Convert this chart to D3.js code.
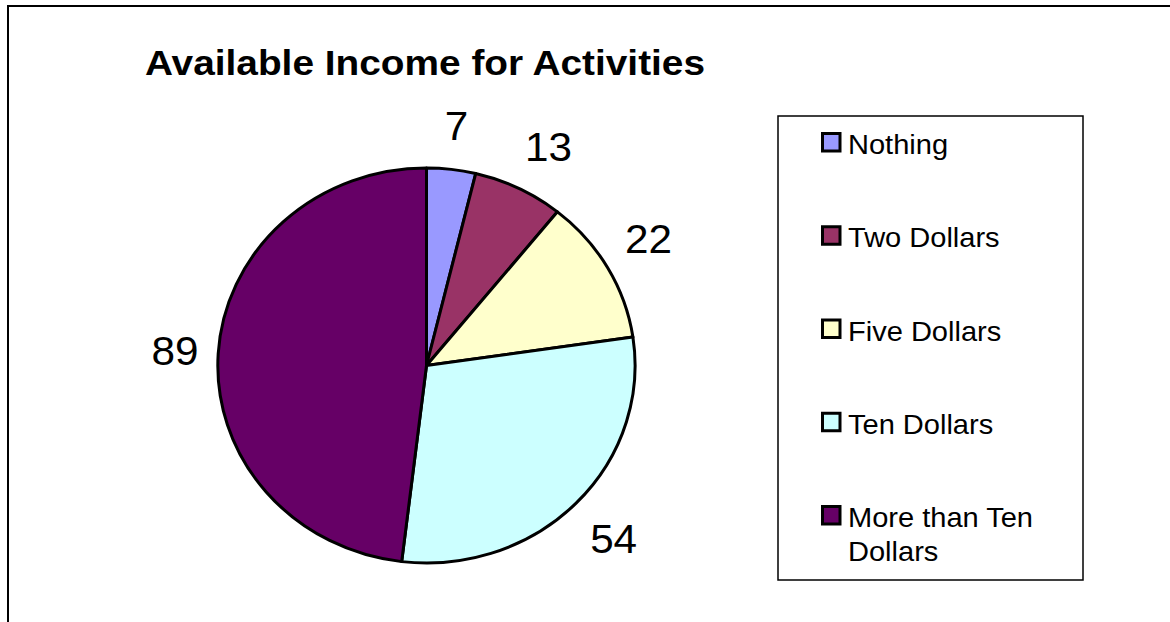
<!DOCTYPE html>
<html>
<head>
<meta charset="utf-8">
<script src="https://cdn.jsdelivr.net/npm/d3@7"></script>
<style>
  html, body { margin: 0; padding: 0; background: #fff; }
  svg { display: block; }
  text { font-family: "Liberation Sans", Arial, sans-serif; fill: #000; }
</style>
</head>
<body>
<svg id="chart" width="1170" height="622"></svg>
<script>
// Chart data
const categories = ["Nothing", "Two Dollars", "Five Dollars", "Ten Dollars", "More than Ten Dollars"];
const values = [7, 13, 22, 54, 89];
const colors = ["#9999FF", "#993366", "#FFFFCC", "#CCFFFF", "#660066"];
const legendLines = [["Nothing"], ["Two Dollars"], ["Five Dollars"], ["Ten Dollars"], ["More than Ten", "Dollars"]];
const title = "Available Income for Activities";

const svg = d3.select("#chart");
const stretch = 1.056;          // text is drawn slightly wide

// Outer chart frame (runs past the right and bottom of the view)
svg.append("rect")
  .attr("x", 8).attr("y", 6)
  .attr("width", 1300).attr("height", 800)
  .attr("fill", "#fff").attr("stroke", "#000").attr("stroke-width", 2);

// Title
svg.append("text")
  .attr("x", 145).attr("y", 75)
  .attr("font-size", 35).attr("font-weight", "bold")
  .attr("textLength", 560).attr("lengthAdjust", "spacingAndGlyphs")
  .text(title);

// Pie geometry (slightly elliptical plot area)
const cx = 426.5, cy = 365.5, rx = 208.5, ry = 197.5;
const pie = d3.pie().sort(null).value(d => d)(values);
const arc = d3.arc().innerRadius(0).outerRadius(1);
const color = d3.scaleOrdinal().domain(categories).range(colors);

const pieG = svg.append("g").attr("transform", `translate(${cx},${cy}) scale(${rx},${ry})`);
pieG.selectAll("path").data(pie).enter().append("path")
  .attr("d", arc)
  .attr("fill", (d, i) => color(categories[i]))
  .attr("stroke", "#000")
  .attr("stroke-width", 3)
  .attr("stroke-linejoin", "round")
  .attr("vector-effect", "non-scaling-stroke");

// Value labels outside the pie, pushed away from the edge along each slice's mid angle
const labelSize = 40;
const capH = 0.716 * labelSize;
const gapX = 20, gapY = 30;
const clamp = v => Math.max(-1, Math.min(1, v));
pie.forEach((d, i) => {
  const a = (d.startAngle + d.endAngle) / 2;
  const s = Math.sin(a), c = Math.cos(a);
  const t = svg.append("text")
    .attr("font-size", labelSize)
    .attr("text-anchor", "middle")
    .text(values[i]);
  const w = t.node().getComputedTextLength() * stretch;
  const ex = cx + s * rx, ey = cy - c * ry;
  const mx = ex + s * gapX + (w / 2) * clamp(2 * s);
  const my = ey - c * gapY - (capH / 2) * clamp(2 * c);
  t.attr("transform", `translate(${mx},${my + capH / 2}) scale(${stretch},1)`);
});

// Legend
const lg = svg.append("g");
lg.append("rect")
  .attr("x", 778).attr("y", 116)
  .attr("width", 305).attr("height", 464)
  .attr("fill", "#fff").attr("stroke", "#000").attr("stroke-width", 1.5);

const legendY = d3.scaleLinear().domain([0, categories.length - 1]).range([154, 527]);
const legendFont = 27.5;
categories.forEach((cat, i) => {
  const y = legendY(i);
  lg.append("rect")
    .attr("x", 822.5).attr("y", y - 20.5)
    .attr("width", 17.5).attr("height", 17.5)
    .attr("fill", color(cat)).attr("stroke", "#000").attr("stroke-width", 3);
  legendLines[i].forEach((line, j) => {
    lg.append("text")
      .attr("font-size", legendFont)
      .attr("transform", `translate(848,${y + j * 34}) scale(${stretch},1)`)
      .text(line);
  });
});
</script>
</body>
</html>
